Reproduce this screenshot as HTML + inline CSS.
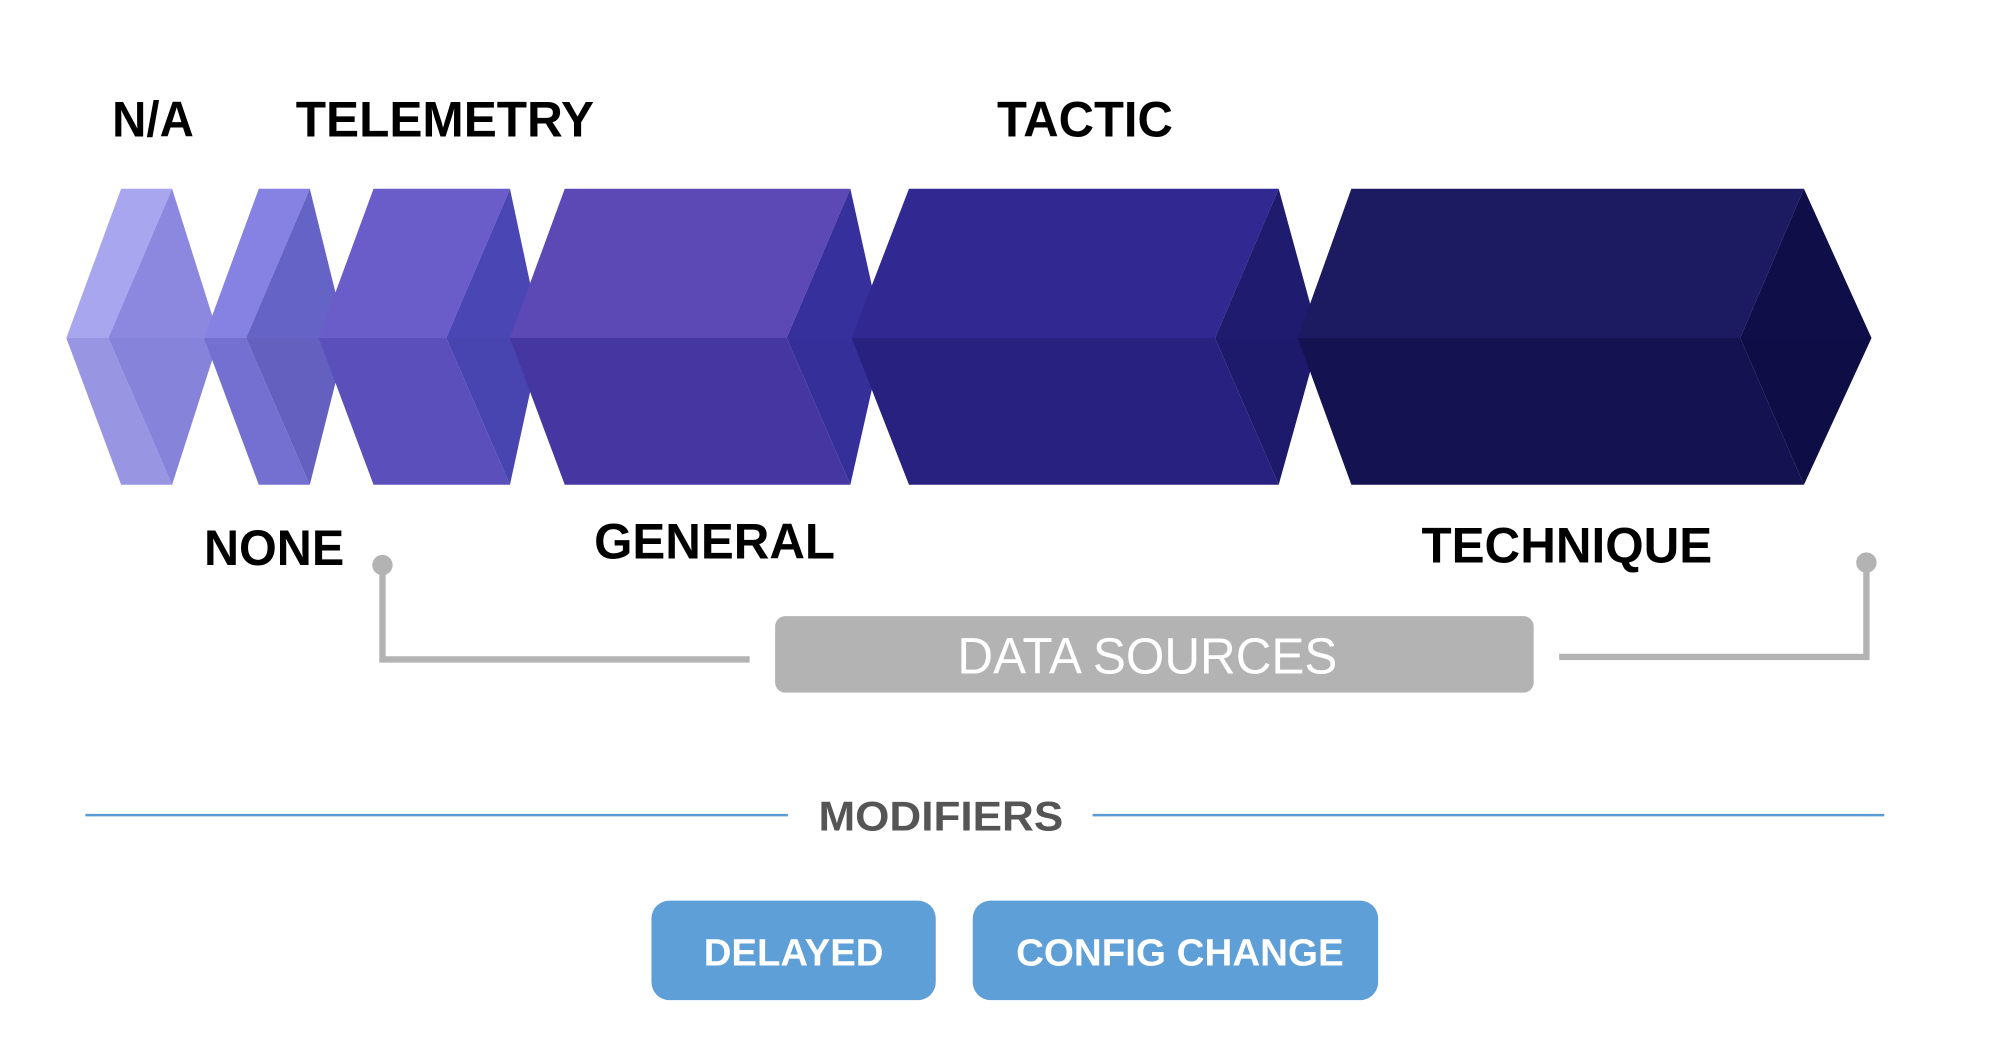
<!DOCTYPE html>
<html><head><meta charset="utf-8"><style>
html,body{margin:0;padding:0;background:#fff;}
svg{display:block;}
text{font-family:"Liberation Sans",Arial,sans-serif;}
</style></head><body>
<svg width="1999" height="1046" viewBox="0 0 1568 820" preserveAspectRatio="none" xmlns="http://www.w3.org/2000/svg">
<rect width="1568" height="820" fill="#fff"/>
<!-- shape 1 -->
<polygon points="95,148 135,148 85,265 52,265" fill="#a8a6ee"/>
<polygon points="52,265 85,265 135,380 95,380" fill="#9895e2"/>
<polygon points="135,148 172,265 85,265" fill="#8c88e0"/>
<polygon points="85,265 172,265 135,380" fill="#8683db"/>
<!-- shape 2 -->
<polygon points="203,148 243,148 193,265 160,265" fill="#8582e3"/>
<polygon points="160,265 193,265 243,380 203,380" fill="#7470d2"/>
<polygon points="243,148 272,265 193,265" fill="#6663c6"/>
<polygon points="193,265 272,265 243,380" fill="#6360c0"/>
<!-- shape 3 -->
<polygon points="293,148 400,148 350,265 250,265" fill="#6a5cc9"/>
<polygon points="250,265 350,265 400,380 293,380" fill="#5b50bb"/>
<polygon points="400,148 425,265 350,265" fill="#4a46b4"/>
<polygon points="350,265 425,265 400,380" fill="#4845b1"/>
<!-- shape 4 -->
<polygon points="443,148 667,148 617,265 400,265" fill="#5c49b5"/>
<polygon points="400,265 617,265 667,380 443,380" fill="#4536a1"/>
<polygon points="667,148 693,265 617,265" fill="#36309c"/>
<polygon points="617,265 693,265 667,380" fill="#352f9a"/>
<!-- shape 5 -->
<polygon points="713,148 1003,148 953,265 668,265" fill="#312891"/>
<polygon points="668,265 953,265 1003,380 713,380" fill="#292180"/>
<polygon points="1003,148 1035,265 953,265" fill="#1f1b6e"/>
<polygon points="953,265 1035,265 1003,380" fill="#1e1a6b"/>
<!-- shape 6 -->
<polygon points="1060,148 1415,148 1365,265 1018,265" fill="#1c1a61"/>
<polygon points="1018,265 1365,265 1415,380 1060,380" fill="#141250"/>
<polygon points="1415,148 1468,265 1365,265" fill="#100e49"/>
<polygon points="1365,265 1468,265 1415,380" fill="#0f0d46"/>

<g font-weight="bold" font-size="39" fill="#000">
<text x="88" y="107" textLength="64" lengthAdjust="spacingAndGlyphs">N/A</text>
<text x="232" y="107" textLength="234" lengthAdjust="spacingAndGlyphs">TELEMETRY</text>
<text x="782" y="107" textLength="138" lengthAdjust="spacingAndGlyphs">TACTIC</text>
<text x="160" y="443" textLength="110" lengthAdjust="spacingAndGlyphs">NONE</text>
<text x="466" y="438" textLength="189" lengthAdjust="spacingAndGlyphs">GENERAL</text>
<text x="1115" y="441" textLength="228" lengthAdjust="spacingAndGlyphs">TECHNIQUE</text>
</g>

<g stroke="#b3b3b3" stroke-width="5" fill="none">
<polyline points="300,443 300,517 588,517"/>
<polyline points="1464,441 1464,515 1223,515"/>
</g>
<circle cx="300" cy="443" r="8" fill="#b3b3b3"/>
<circle cx="1464" cy="441" r="8" fill="#b3b3b3"/>
<rect x="608" y="483" width="595" height="60" rx="8" fill="#b3b3b3"/>
<text x="751" y="528" font-size="40" fill="#fff" textLength="298" lengthAdjust="spacingAndGlyphs">DATA SOURCES</text>

<line x1="67" y1="639" x2="618" y2="639" stroke="#5b9bd5" stroke-width="2"/>
<line x1="857" y1="639" x2="1478" y2="639" stroke="#5b9bd5" stroke-width="2"/>
<text x="642" y="651" font-size="33" font-weight="bold" fill="#555" textLength="192" lengthAdjust="spacingAndGlyphs">MODIFIERS</text>

<rect x="511" y="706" width="223" height="78" rx="14" fill="#5f9fd8"/>
<text x="552" y="757" font-size="30" font-weight="bold" fill="#fff" textLength="141" lengthAdjust="spacingAndGlyphs">DELAYED</text>
<rect x="763" y="706" width="318" height="78" rx="14" fill="#5f9fd8"/>
<text x="797" y="757" font-size="30" font-weight="bold" fill="#fff" textLength="257" lengthAdjust="spacingAndGlyphs">CONFIG CHANGE</text>
</svg>
</body></html>
